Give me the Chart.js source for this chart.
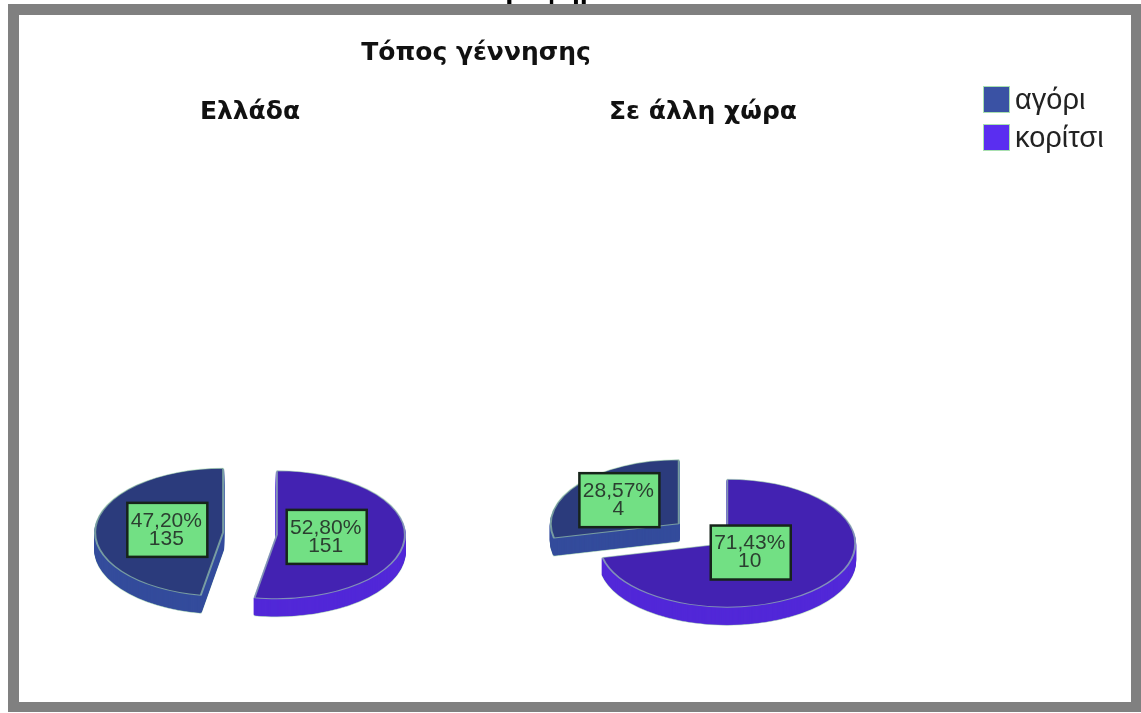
<!DOCTYPE html>
<html lang="el">
<head>
<meta charset="utf-8">
<title>Τόπος γέννησης</title>
<script src="https://cdn.jsdelivr.net/npm/chart.js@4"></script>
<style>
    html, body { margin: 0; padding: 0; background: #fff; overflow: hidden; }
    body { width: 1141px; height: 713px; position: relative; font-family: "Liberation Sans", sans-serif; }
    #page { position: absolute; left: 0; top: 0; width: 1141px; height: 713px; filter: blur(0.7px); }
    #pageTitle { position: absolute; left: 488px; top: -27px; line-height: 30px; font-size: 29px; font-weight: bold; color: #000; }
    #frame { position: absolute; left: 8px; top: 4px; width: 1133px; height: 708px; box-sizing: border-box; border: 10px solid #808080; border-top-width: 11px; border-left-width: 11px; }
    #mainTitle { position: absolute; left: 0; width: 952px; top: 37px; text-align: center; font-family: "DejaVu Sans", sans-serif; font-size: 25px; font-weight: bold; color: #111; }
    canvas { position: absolute; }
    #chartGreece { left: 60px; top: 90px; }
    #chartAbroad { left: 513px; top: 90px; }
    #legend { position: absolute; left: 983px; top: 80px; font-size: 29px; color: #222; }
    .legend-item { display: flex; align-items: center; height: 38px; }
    .legend-box { width: 27px; height: 27px; margin-right: 5px; box-sizing: border-box; border: 1px solid #a9e0b0; }
</style>
</head>
<body>
<div id="page">
    <div id="pageTitle">Γράφημα</div>
    <div id="frame"></div>
    <div id="mainTitle">Τόπος γέννησης</div>
    <canvas id="chartGreece" width="380" height="555"></canvas>
    <canvas id="chartAbroad" width="380" height="555"></canvas>
    <div id="legend"></div>
</div>

<script>
const categories = ["αγόρι", "κορίτσι"];
const greeceValues = [135, 151];
const abroadValues = [4, 10];
const greeceTitle = "Ελλάδα";
const abroadTitle = "Σε άλλη χώρα";

const topColors = ["#2b3b7c", "#4322b2"];
const sideColors = ["#344c9c", "#5228d8"];
const legendColors = ["#3a52a4", "#5a2ef0"];
const edgeColor = "rgba(169,217,176,0.6)";

const SQUASH = 0.5;
const DEPTH = 18;

function percentText(value, total) {
    return (value / total * 100).toFixed(2).replace(".", ",") + "%";
}

// Chart.js has no 3D pie: squash the arcs and repeat them downward for the side wall
const tiltedPie = {
    id: "tiltedPie",
    afterDatasetsUpdate(chart, args, opts) {
        chart.getDatasetMeta(0).data.forEach(arc => {
            const mid = (arc.startAngle + arc.endAngle) / 2;
            arc.x += Math.cos(mid) * opts.explode;
            arc.y += Math.sin(mid) * opts.explode;
        });
    },
    beforeDatasetsDraw(chart) {
        const ctx = chart.ctx;
        const arcs = chart.getDatasetMeta(0).data;
        const cy = (chart.chartArea.top + chart.chartArea.bottom) / 2;

        ctx.save();
        ctx.translate(0, cy);
        ctx.scale(1, SQUASH);
        ctx.translate(0, -cy);

        for (let d = DEPTH; d > 0; d--) {
            arcs.forEach((arc, i) => {
                const saved = arc.options;
                arc.options = Object.assign({}, saved, {
                    backgroundColor: sideColors[i],
                    borderColor: d === DEPTH ? edgeColor : sideColors[i]
                });
                ctx.save();
                ctx.translate(0, d / SQUASH);
                arc.draw(ctx);
                ctx.restore();
                arc.options = saved;
            });
        }
    },
    afterDatasetsDraw(chart) {
        const ctx = chart.ctx;
        ctx.restore();

        const values = chart.data.datasets[0].data;
        const total = values.reduce((a, b) => a + b, 0);
        const cy = (chart.chartArea.top + chart.chartArea.bottom) / 2;

        chart.getDatasetMeta(0).data.forEach((arc, i) => {
            const mid = (arc.startAngle + arc.endAngle) / 2;
            const pct = values[i] / total * 100;
            const dist = 106.5 - 1.07 * pct;
            const x = arc.x + Math.cos(mid) * dist;
            const y = cy + (arc.y - cy + Math.sin(mid) * dist) * SQUASH;

            ctx.fillStyle = "#72e084";
            ctx.strokeStyle = "#16241a";
            ctx.lineWidth = 2.5;
            ctx.fillRect(x - 40, y - 27, 80, 54);
            ctx.strokeRect(x - 40, y - 27, 80, 54);

            ctx.fillStyle = "#2b3f30";
            ctx.font = '21px "Liberation Sans", sans-serif';
            ctx.textAlign = "center";
            ctx.textBaseline = "middle";
            ctx.fillText(percentText(values[i], total), x - 1, y - 9);
            ctx.fillText(String(values[i]), x - 1, y + 9);
        });
    }
};

function drawPie(canvasId, titleText, values, explode) {
    const total = values.reduce((a, b) => a + b, 0);

    return new Chart(document.getElementById(canvasId), {
        type: "pie",
        data: {
            labels: categories,
            datasets: [
                {
                    data: values,
                    backgroundColor: topColors,
                    borderColor: edgeColor,
                    borderWidth: 2,
                    clip: false
                }
            ]
        },
        options: {
            responsive: false,
            animation: false,
            radius: 128,
            // the first slice ends at twelve o'clock
            rotation: -values[0] / total * 360,
            plugins: {
                legend: { display: false },
                tooltip: { enabled: false },
                title: {
                    display: true,
                    text: titleText,
                    color: "#111",
                    font: { family: '"DejaVu Sans", sans-serif', size: 25, weight: "bold" },
                    padding: { top: 7, bottom: 295 }
                },
                tiltedPie: { explode: explode }
            }
        },
        plugins: [tiltedPie]
    });
}

drawPie("chartGreece", greeceTitle, greeceValues, 27);
drawPie("chartAbroad", abroadTitle, abroadValues, 31);

const legend = document.getElementById("legend");
categories.forEach((name, i) => {
    legend.innerHTML += `
        <div class="legend-item">
            <span class="legend-box" style="background:${legendColors[i]}"></span>
            <span>${name}</span>
        </div>
    `;
});
</script>
</body>
</html>
